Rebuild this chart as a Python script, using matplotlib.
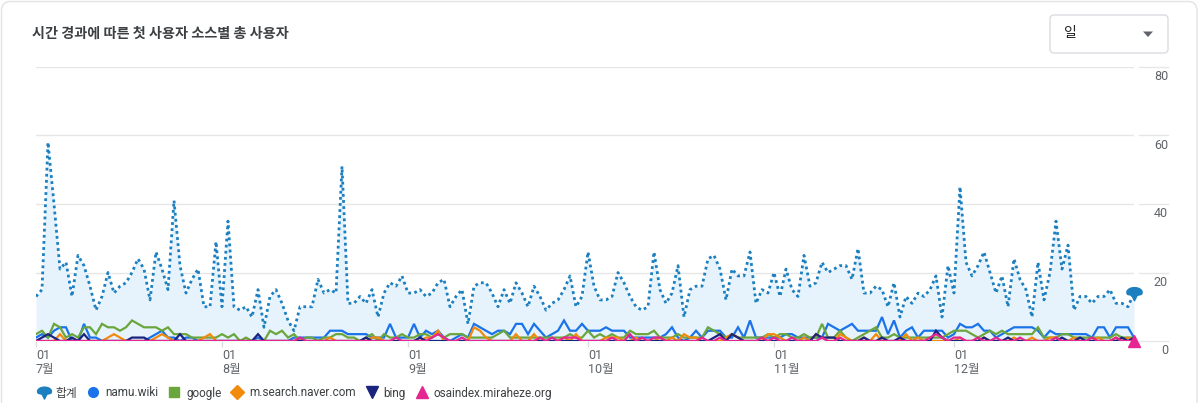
import matplotlib
matplotlib.use("Agg")
import matplotlib.pyplot as plt
import matplotlib.patches as mpatches
import matplotlib.transforms as mtransforms
from matplotlib.lines import Line2D
from matplotlib.path import Path
import numpy as np
import pandas as pd

plt.rcParams['font.family'] = ['Roboto', 'Noto Sans CJK KR', 'DejaVu Sans']

# ---------------- data ----------------
dates = pd.date_range('2023-07-01', '2023-12-31', freq='D')

total = [13, 15, 58, 40, 21, 23, 13, 25, 22, 16,
         9, 13, 20, 14, 16, 17, 20, 24, 21, 12,
         26, 21, 15, 41, 22, 14, 18, 21, 10, 10,
         29, 10, 35, 10, 9, 10, 7, 15, 4, 13,
         15, 11, 6, 3, 10, 10, 10, 18, 14, 15,
         14, 51, 11, 11, 13, 11, 15, 7, 14, 17,
         16, 19, 14, 14, 15, 13, 14, 17, 18, 10,
         13, 15, 5, 16, 17, 17, 14, 10, 15, 11,
         17, 14, 10, 16, 13, 9, 11, 12, 15, 19,
         10, 13, 26, 16, 12, 12, 13, 20, 17, 13,
         10, 9, 10, 26, 15, 11, 14, 22, 7, 15,
         16, 16, 24, 25, 21, 12, 21, 19, 19, 26,
         11, 15, 14, 20, 13, 21, 15, 13, 25, 16,
         17, 23, 20, 21, 22, 22, 18, 27, 14, 14,
         16, 15, 10, 17, 7, 13, 11, 14, 13, 15,
         19, 7, 22, 14, 45, 23, 19, 22, 26, 20,
         14, 19, 10, 24, 18, 15, 7, 23, 12, 20,
         35, 21, 28, 9, 13, 13, 11, 13, 13, 15,
         11, 11, 10, 14]

namu = [1, 2, 1, 3, 4, 4, 0, 0, 5, 1,
        1, 0, 0, 0, 0, 0, 0, 0, 0, 1,
        2, 3, 1, 1, 0, 1, 1, 0, 0, 0,
        0, 0, 0, 0, 0, 0, 0, 1, 0, 0,
        0, 0, 0, 1, 1, 1, 1, 1, 1, 3,
        3, 3, 2, 2, 2, 2, 1, 1, 1, 5,
        1, 1, 1, 5, 1, 3, 2, 3, 1, 0,
        1, 2, 1, 5, 4, 3, 2, 3, 3, 2,
        5, 5, 2, 5, 3, 1, 2, 3, 6, 3,
        3, 5, 3, 3, 3, 4, 3, 3, 3, 1,
        1, 1, 1, 1, 1, 2, 4, 1, 0, 1,
        3, 1, 3, 3, 3, 1, 1, 4, 1, 6,
        1, 1, 1, 1, 1, 2, 2, 1, 1, 1,
        1, 1, 5, 4, 3, 4, 5, 3, 3, 3,
        3, 7, 2, 6, 1, 3, 4, 1, 3, 3,
        3, 3, 1, 2, 5, 4, 4, 5, 3, 3,
        1, 2, 3, 4, 4, 4, 4, 3, 1, 3,
        2, 2, 2, 2, 2, 2, 1, 4, 4, 1,
        4, 4, 4, 1]

google = [2, 3, 1, 5, 4, 1, 2, 1, 4, 4,
          2, 5, 4, 4, 3, 4, 6, 5, 4, 4,
          4, 3, 4, 2, 2, 2, 1, 1, 1, 1,
          1, 2, 1, 2, 0, 1, 0, 0, 0, 3,
          2, 3, 1, 2, 0, 1, 1, 0, 1, 1,
          2, 2, 1, 1, 0, 1, 2, 0, 2, 1,
          1, 2, 1, 1, 2, 2, 1, 2, 1, 2,
          2, 2, 1, 1, 1, 1, 1, 2, 3, 1,
          1, 1, 1, 1, 1, 1, 1, 1, 1, 2,
          1, 1, 3, 1, 2, 1, 2, 1, 1, 3,
          2, 2, 2, 3, 1, 1, 1, 2, 1, 1,
          1, 1, 4, 3, 2, 1, 2, 1, 1, 1,
          1, 1, 2, 1, 2, 2, 1, 1, 2, 1,
          1, 5, 1, 1, 3, 1, 0, 1, 2, 3,
          4, 1, 1, 2, 1, 1, 1, 1, 1, 1,
          1, 1, 2, 3, 3, 3, 2, 1, 2, 3,
          2, 3, 2, 2, 2, 2, 2, 4, 1, 1,
          1, 2, 2, 1, 1, 1, 1, 1, 1, 1,
          2, 1, 1, 1]

naver = [0, 0, 0, 0, 2, 0, 0, 0, 0, 0,
         0, 0, 1, 2, 1, 0, 0, 0, 0, 0,
         1, 2, 1, 0, 0, 0, 0, 0, 1, 2,
         0, 0, 0, 0, 0, 0, 0, 0, 0, 0,
         0, 0, 0, 0, 0, 0, 0, 0, 0, 1,
         0, 0, 0, 0, 0, 0, 1, 1, 0, 0,
         0, 0, 0, 0, 0, 1, 1, 3, 0, 0,
         0, 0, 0, 4, 3, 1, 0, 0, 0, 0,
         2, 0, 0, 2, 0, 0, 0, 0, 1, 0,
         2, 0, 0, 0, 0, 1, 1, 1, 0, 0,
         1, 0, 0, 0, 1, 0, 1, 0, 2, 1,
         1, 0, 0, 0, 0, 1, 2, 1, 0, 0,
         0, 0, 2, 2, 1, 0, 0, 0, 1, 0,
         2, 1, 0, 0, 2, 1, 0, 0, 1, 0,
         2, 0, 0, 0, 0, 2, 0, 1, 0, 0,
         0, 0, 0, 0, 1, 0, 0, 0, 1, 0,
         0, 0, 0, 1, 0, 0, 1, 0, 0, 1,
         1, 0, 0, 1, 0, 0, 0, 1, 0, 0,
         1, 0, 1, 0]

bing = [0, 1, 2, 1, 0, 0, 1, 0, 2, 0,
        0, 0, 0, 0, 0, 0, 1, 1, 1, 0,
        0, 0, 0, 0, 2, 0, 0, 0, 0, 0,
        0, 0, 0, 0, 0, 0, 0, 2, 0, 0,
        0, 0, 0, 0, 0, 0, 0, 0, 0, 0,
        0, 0, 0, 0, 0, 1, 0, 0, 0, 0,
        0, 0, 0, 0, 1, 0, 0, 0, 0, 0,
        0, 0, 0, 0, 0, 0, 0, 0, 0, 0,
        0, 0, 0, 0, 0, 0, 0, 0, 0, 0,
        0, 0, 0, 0, 0, 0, 0, 0, 0, 0,
        0, 0, 0, 0, 0, 0, 0, 0, 0, 0,
        0, 0, 0, 1, 2, 0, 2, 1, 0, 0,
        0, 0, 0, 0, 0, 0, 0, 0, 0, 0,
        2, 1, 1, 1, 0, 0, 0, 0, 1, 0,
        0, 1, 0, 0, 1, 0, 0, 0, 0, 0,
        3, 1, 0, 0, 0, 0, 0, 0, 1, 0,
        0, 0, 1, 0, 0, 0, 0, 0, 0, 0,
        0, 1, 0, 0, 1, 0, 0, 0, 0, 0,
        0, 1, 0, 1]

osaindex = [0, 0, 0, 0, 0, 0, 0, 0, 0, 0,
            0, 0, 0, 0, 0, 0, 0, 0, 0, 0,
            0, 0, 0, 0, 0, 0, 0, 0, 0, 0,
            0, 0, 0, 0, 0, 0, 0, 0, 0, 0,
            0, 0, 0, 0, 1, 0, 0, 0, 0, 0,
            0, 0, 0, 0, 0, 0, 0, 0, 0, 0,
            1, 0, 0, 0, 0, 0, 1, 2, 1, 0,
            0, 1, 0, 0, 0, 0, 0, 0, 0, 0,
            0, 0, 0, 0, 1, 0, 1, 0, 1, 1,
            1, 0, 0, 0, 0, 0, 1, 0, 0, 2,
            0, 1, 0, 1, 1, 0, 0, 0, 0, 0,
            0, 1, 0, 0, 1, 0, 0, 0, 0, 0,
            0, 1, 0, 1, 0, 0, 1, 0, 0, 0,
            0, 1, 0, 0, 1, 0, 0, 0, 0, 0,
            0, 0, 0, 0, 0, 0, 0, 0, 0, 1,
            2, 1, 0, 1, 1, 0, 0, 1, 0, 0,
            1, 0, 0, 0, 1, 0, 0, 0, 0, 0,
            1, 0, 0, 0, 0, 0, 1, 0, 0, 0,
            1, 0, 0, 0]

series_names = ['합계', 'namu.wiki', 'google', 'm.search.naver.com', 'bing', 'osaindex.miraheze.org']
month_ticks = pd.to_datetime(['2023-07-01', '2023-08-01', '2023-09-01', '2023-10-01', '2023-11-01', '2023-12-01'])
month_labels = ['01\n7월', '01\n8월', '01\n9월', '01\n10월', '01\n11월', '01\n12월']
y_ticks = [0, 20, 40, 60, 80]
title = '시간 경과에 따른 첫 사용자 소스별 총 사용자'
dropdown_text = '일'

# ---------------- style ----------------
C_TOTAL = '#1b7fc0'
C_FILL = '#e6f3fc'
C_NAMU = '#1a73e8'
C_GOOGLE = '#6aa63c'
C_NAVER = '#f28a0c'
C_BING = '#1a237e'
C_OSA = '#e52592'
C_TEXT = '#5f6368'
C_GRID = '#e6e6e6'

W, H = 1200, 403
fig = plt.figure(figsize=(W / 100, H / 100), dpi=100)

# background canvas in pixel coords
bg = fig.add_axes([0, 0, 1, 1])
bg.set_xlim(0, W)
bg.set_ylim(H, 0)
bg.axis('off')
bg.add_patch(mpatches.FancyBboxPatch((1.5, 1.5), 1195.5, 440,
                                     boxstyle='round,pad=0,rounding_size=9',
                                     fc='none', ec='#e3e3e3', lw=1.0))
bg.text(32, 34, title, fontsize=10.2, color='#3c4043', va='center', ha='left',
        family=['Noto Sans CJK KR', 'DejaVu Sans'], fontweight='bold')
bg.add_patch(mpatches.FancyBboxPatch((1050, 15), 118, 38,
                                     boxstyle='round,pad=0,rounding_size=4',
                                     fc='white', ec='#dadce0', lw=1.0))
bg.text(1064, 33.5, dropdown_text, fontsize=10, color='#202124', va='center', ha='left',
        family=['Noto Sans CJK KR', 'DejaVu Sans'])
bg.add_patch(mpatches.Polygon([[1143, 31.5], [1153, 31.5], [1148, 37]], closed=True,
                              fc='#5f6368', ec='none'))

# main axes: x from 36 to 1134 px, y (0) at 341 px, (80) at 67 px
left, right = 36, 1134
y0px, y80px = 341, 67
ax = fig.add_axes([left / W, (H - y0px) / H, (right - left) / W, (y0px - y80px) / H])
ax.patch.set_alpha(0)
ax.set_xlim(dates[0], dates[-1])
ax.set_ylim(0, 80)
for s in ax.spines.values():
    s.set_visible(False)

ax.set_yticks(y_ticks)
ax.grid(axis='y', color=C_GRID, lw=1.0)
ax.set_axisbelow(True)

ax.fill_between(dates, total, 0, color=C_FILL, lw=0, zorder=1)
lw = 1.6
ax.plot(dates, namu, color=C_NAMU, lw=lw, zorder=3, solid_joinstyle='miter')
ax.plot(dates, google, color=C_GOOGLE, lw=lw, zorder=3, solid_joinstyle='miter')
ax.plot(dates, naver, color=C_NAVER, lw=lw, zorder=3, solid_joinstyle='miter')
ax.plot(dates, bing, color=C_BING, lw=lw, zorder=3, solid_joinstyle='miter')
ax.plot(dates, osaindex, color=C_OSA, lw=lw, zorder=3, solid_joinstyle='miter')
ax.plot(dates, total, color=C_TOTAL, lw=2.0, linestyle=(0, (1.0, 1.2)),
        dash_capstyle='butt', zorder=4)

# pin marker for total
theta = np.linspace(np.radians(-25), np.radians(205), 30)
cap = np.column_stack([np.cos(theta), 0.62 * np.sin(theta) + 0.15])
verts = np.vstack([cap, [[-0.35, -0.25], [0.0, -0.95], [0.35, -0.25]], cap[:1]])
pin = Path(verts, closed=True)

ax.plot([dates[-1]], [total[-1]], marker=pin, markersize=11, color=C_TOTAL,
        linestyle='None', zorder=6, clip_on=False)
ax.plot([dates[-1]], [osaindex[-1]], marker='^', markersize=9, color=C_OSA,
        linestyle='None', zorder=6, clip_on=False)

# y tick labels on right
ax.tick_params(axis='y', length=0, pad=24.5, labelleft=False, labelright=True,
               labelsize=9, labelcolor=C_TEXT)
offset = mtransforms.ScaledTranslation(0, -2.5 / 72, fig.dpi_scale_trans)
for lab in ax.get_yticklabels():
    lab.set_ha('right')
    lab.set_va('top')
    lab.set_transform(lab.get_transform() + offset)

# grid extension to the right of the plot
ytr = ax.get_yaxis_transform()
for yv in y_ticks:
    ax.plot([1.0046, 1.031], [yv, yv], color=C_GRID, lw=1.0, transform=ytr, clip_on=False)

# x ticks
ax.set_xticks(month_ticks)
ax.set_xticklabels(month_labels, ha='left', linespacing=1.05)
ax.tick_params(axis='x', length=4, width=1, color='#dadce0', pad=2, labelsize=9,
               labelcolor=C_TEXT)

# legend
handles = [
    Line2D([], [], marker=pin, markersize=10, color=C_TOTAL, linestyle='None'),
    Line2D([], [], marker='o', markersize=7, color=C_NAMU, linestyle='None'),
    Line2D([], [], marker='s', markersize=6.5, color=C_GOOGLE, linestyle='None'),
    Line2D([], [], marker='D', markersize=7, color=C_NAVER, linestyle='None'),
    Line2D([], [], marker='v', markersize=8, color=C_BING, linestyle='None'),
    Line2D([], [], marker='^', markersize=8, color=C_OSA, linestyle='None'),
]
leg = fig.legend(handles, series_names, loc='center left', bbox_to_anchor=(38 / W, 1 - 393 / H),
                 ncol=6, frameon=False, fontsize=8.5, handlelength=1.0, handletextpad=0.5,
                 columnspacing=0.85, borderaxespad=0, borderpad=0)
for t in leg.get_texts():
    t.set_color('#3c4043')

fig.savefig('out.png', dpi=100, facecolor='white')
